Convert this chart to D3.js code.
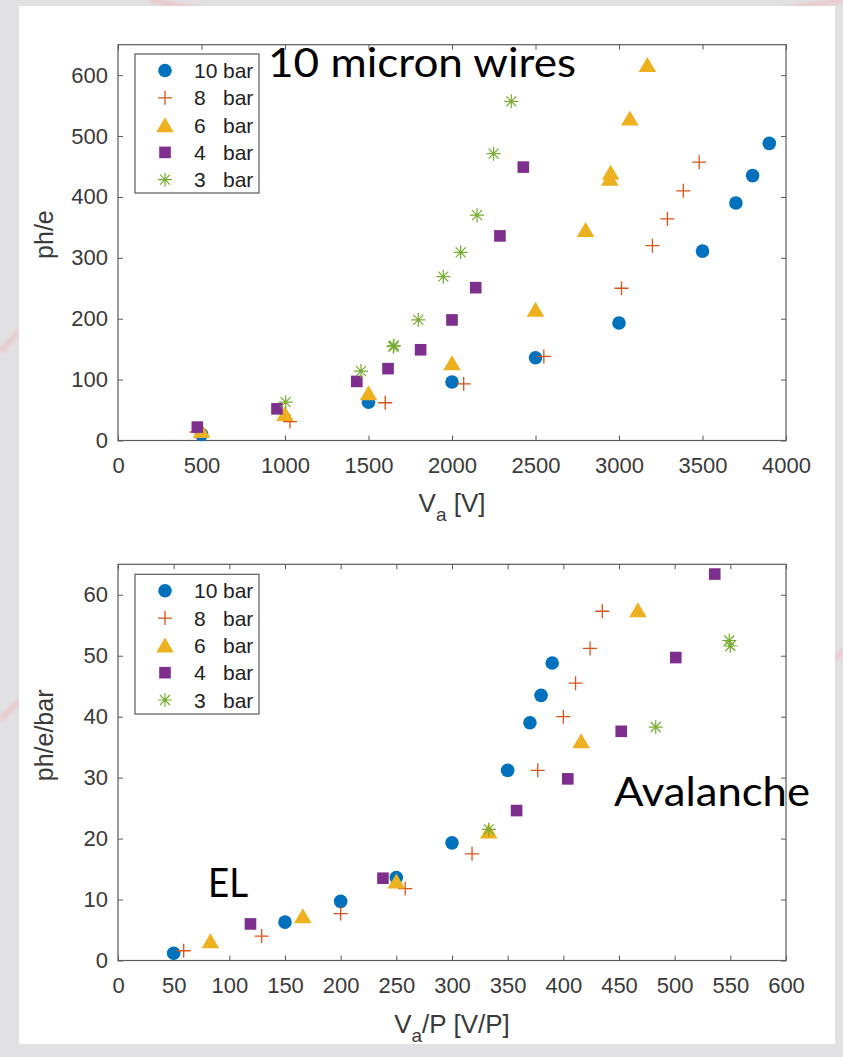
<!DOCTYPE html>
<html><head><meta charset="utf-8">
<script src="https://cdn.jsdelivr.net/npm/d3@7"></script>
<style>body{margin:0;background:#e1e1e3;} svg{display:block}</style>
</head><body><svg id="c" width="843" height="1057"></svg>
<script>
// ---- series meta ----
const seriesNums = ["10","8","6","4","3"];
const seriesUnit = "bar";
const seriesColors = ["#0072BD","#D95319","#EDB120","#7E2F8E","#77AC30"];
const seriesMarkers = ["circle","plus","triangle","square","star"];

// ---- top panel: ph/e vs Va [V] ----
const va10 = [500,1500,2000,2500,3000,3500,3700,3800,3900];
const pe10 = [10,63,96,136,193,311,390,435,488];
const va8  = [470,1030,1600,2070,2550,3015,3200,3290,3385,3480];
const pe8  = [14,31,62,93,138,250,320,364,410,457];
const va6  = [500,1000,1500,2000,2500,2800,2945,2950,3065,3170];
const pe6  = [16,44,78,127,215,346,430,440,529,617];
const va4  = [475,952,1430,1617,1812,2000,2142,2287,2427];
const pe4  = [22,52,97,118,149,198,251,336,449];
const va3  = [1004,1455,1649,1652,1798,1948,2052,2150,2249,2355];
const pe3  = [63,114,154,156,198,269,309,370,471,557];
const xTicksTop = [0,500,1000,1500,2000,2500,3000,3500,4000];
const yTicksTop = [0,100,200,300,400,500,600];

// ---- bottom panel: ph/e/bar vs Va/P ----
const vp10 = [50,150,200,250,300,350,370,380,390];
const pb10 = [1.2,6.3,9.7,13.6,19.3,31.2,39,43.5,48.8];
const vp8  = [59,129,200,258,318,377,400,411,424,435];
const pb8  = [1.6,4.0,7.7,11.8,17.5,31.2,40,45.5,51.2,57.3];
const vp6  = [83,166,250,333,416,467];
const pb6  = [3.2,7.3,13,21.2,36,57.5];
const vp4  = [119,238,358,404,452,501,536];
const pb4  = [6.0,13.5,24.6,29.8,37.6,49.7,63.4];
const vp3  = [333,483,549,550];
const pb3  = [21.5,38.3,52.5,51.6];
const xTicksBot = [0,50,100,150,200,250,300,350,400,450,500,550,600];
const yTicksBot = [0,10,20,30,40,50,60];

const svg = d3.select("#c");
const defs = svg.append("defs");
defs.append("filter").attr("id","blur").append("feGaussianBlur").attr("stdDeviation",2);

// faint background glow strokes
const glow = svg.append("g").attr("filter","url(#blur)").attr("fill","none")
  .attr("stroke","#f2b3b3").attr("stroke-width",4).attr("opacity",0.7);
[[ [0,352],[20,330] ],[ [0,720],[20,700] ],[ [150,0],[200,10] ],[ [780,10],[843,0] ],[ [835,660],[843,650] ]]
  .forEach(p => glow.append("path").attr("d", d3.line()(p)));

// white slide panel
svg.append("rect").attr("x",19).attr("y",6).attr("width",816).attr("height",1038).attr("fill","#ffffff");

function marker(g, type, color){
  if(type==="circle") g.append("circle").attr("r",6.8).attr("fill",color);
  else if(type==="square") g.append("rect").attr("x",-5.8).attr("y",-5.8).attr("width",11.6).attr("height",11.6).attr("fill",color);
  else if(type==="triangle") g.append("path").attr("d","M0,-7.8L8.8,7.2L-8.8,7.2Z").attr("fill",color);
  else if(type==="plus") g.append("path").attr("d","M-7,0H7M0,-7V7").attr("stroke",color).attr("stroke-width",1.3).attr("fill","none");
  else if(type==="star") g.append("path").attr("d","M-7,0H7M0,-7V7M-5,-5L5,5M-5,5L5,-5").attr("stroke",color).attr("stroke-width",1.2).attr("fill","none");
}

const axisColor = "#5a5a5a", textColor = "#3a3a3a";
const font = "'Liberation Sans', Arial, Helvetica, sans-serif";

function panel(cfg){
  const x = d3.scaleLinear().domain(cfg.xDom).range([118,786]);
  const y = d3.scaleLinear().domain(cfg.yDom).range([cfg.bottom, cfg.top]);
  const g = svg.append("g");
  const styleAxis = a => { a.select(".domain").remove(); a.selectAll("line").attr("stroke",axisColor);
    a.selectAll("text").attr("fill",textColor).style("font-family",font).style("font-size","22px"); };
  g.append("g").attr("transform",`translate(0,${cfg.bottom})`)
    .call(d3.axisBottom(x).tickValues(cfg.xTicks).tickSize(-5).tickSizeOuter(0).tickPadding(17).tickFormat(d3.format("d"))).call(styleAxis);
  g.append("g").attr("transform",`translate(0,${cfg.top})`)
    .call(d3.axisTop(x).tickValues(cfg.xTicks).tickSize(-5).tickSizeOuter(0).tickFormat("")).call(styleAxis);
  g.append("g").attr("transform",`translate(118,0)`)
    .call(d3.axisLeft(y).tickValues(cfg.yTicks).tickSize(-5).tickSizeOuter(0).tickPadding(10).tickFormat(d3.format("d"))).call(styleAxis);
  g.append("g").attr("transform",`translate(786,0)`)
    .call(d3.axisRight(y).tickValues(cfg.yTicks).tickSize(-5).tickSizeOuter(0).tickFormat("")).call(styleAxis);
  g.append("rect").attr("x",118).attr("y",cfg.top).attr("width",668).attr("height",cfg.bottom-cfg.top)
    .attr("fill","none").attr("stroke",axisColor).attr("stroke-width",1.2);

  // points
  cfg.series.forEach((s,i)=>{
    s.x.forEach((xv,j)=>{
      const m = g.append("g").attr("transform",`translate(${x(xv)},${y(s.y[j])})`);
      marker(m, seriesMarkers[i], seriesColors[i]);
    });
  });

  // x label
  const xl = g.append("text").attr("x",cfg.xLabelX).attr("y",cfg.bottom+cfg.xLabelDy).attr("fill",textColor)
    .style("font-family",font).style("font-size","26px").attr("text-anchor","middle");
  cfg.xLabel.forEach(p=>{
    const t = xl.append("tspan").text(p.t);
    if(p.sub) t.attr("dy",9).style("font-size","19px");
    else if(p.after) t.attr("dy",-9);
  });
  // y label
  g.append("text").attr("transform",`translate(53,${(cfg.top+cfg.bottom)/2 + cfg.yLabelDy}) rotate(-90)`)
    .attr("text-anchor","middle").attr("fill",textColor).style("font-family",font).style("font-size","25px").text(cfg.yLabel);

  // legend
  const L = cfg.legend;
  g.append("rect").attr("x",135).attr("y",L.y).attr("width",124).attr("height",L.h)
    .attr("fill","#fff").attr("stroke",axisColor).attr("stroke-width",1.2);
  seriesNums.forEach((n,i)=>{
    const cy = L.y + 16.5 + i*27.3;
    marker(g.append("g").attr("transform",`translate(165,${cy})`), seriesMarkers[i], seriesColors[i]);
    g.append("text").attr("x",194).attr("y",cy).attr("dy","0.36em").attr("fill","#222")
      .style("font-family",font).style("font-size","21px").text(n);
    g.append("text").attr("x",223).attr("y",cy).attr("dy","0.36em").attr("fill","#222")
      .style("font-family",font).style("font-size","21px").text(seriesUnit);
  });
}

panel({
  xDom:[0,4000], yDom:[0,650], top:44.7, bottom:440.5,
  xTicks:xTicksTop, yTicks:yTicksTop,
  series:[{x:va10,y:pe10},{x:va8,y:pe8},{x:va6,y:pe6},{x:va4,y:pe4},{x:va3,y:pe3}],
  xLabel:[{t:"V"},{t:"a",sub:true},{t:" [V]",after:true}], xLabelX:452, xLabelDy:71,
  yLabel:"ph/e", yLabelDy:-8,
  legend:{y:54,h:139}
});
panel({
  xDom:[0,600], yDom:[0,65], top:564.3, bottom:960.5,
  xTicks:xTicksBot, yTicks:yTicksBot,
  series:[{x:vp10,y:pb10},{x:vp8,y:pb8},{x:vp6,y:pb6},{x:vp4,y:pb4},{x:vp3,y:pb3}],
  xLabel:[{t:"V"},{t:"a",sub:true},{t:"/P [V/P]",after:true}], xLabelX:452, xLabelDy:72,
  yLabel:"ph/e/bar", yLabelDy:-27,
  legend:{y:574.3,h:139.7}
});

// slide annotations
const ann = "Lato, 'Open Sans', sans-serif";
const annotations = [
  {t:"10 micron wires", x:268, y:77, w:308},
  {t:"Avalanche", x:614, y:806, w:196},
  {t:"EL", x:208, y:897, w:40}
];
annotations.forEach(a=>{
  svg.append("text").attr("x",a.x).attr("y",a.y).attr("fill","#000")
    .style("font-family",ann).style("font-size","40px")
    .attr("textLength",a.w).attr("lengthAdjust","spacingAndGlyphs").text(a.t);
});
</script></body></html>
